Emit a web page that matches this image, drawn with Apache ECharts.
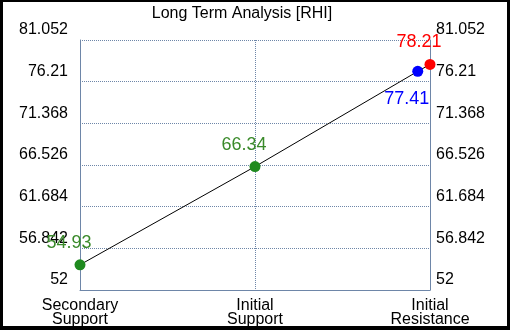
<!DOCTYPE html>
<html>
<head>
<meta charset="utf-8">
<script src="https://cdn.jsdelivr.net/npm/echarts@6/dist/echarts.min.js"></script>
<style>
  html, body { margin: 0; padding: 0; background: #000; }
  #paper { position: absolute; left: 3px; top: 2px; width: 504px; height: 324px; background: #fff; }
  #main { position: absolute; left: 0; top: 0; width: 510px; height: 330px; }
</style>
</head>
<body>
<div id="paper"></div>
<div id="main"></div>
<script>
var categories = ['Secondary\nSupport', 'Initial\nSupport', 'Initial\nResistance']
var yTicks = [52, 56.842, 61.684, 66.526, 71.368, 76.21, 81.052]
var pointX = [0, 1, 1.93, 2]
var pointY = [54.93, 66.34, 77.41, 78.21]
var pointColors = ['#1f8a1f', '#1f8a1f', '#0000ff', '#ff0000']
var labelColors = ['#3a8a2a', '#3a8a2a', '#0000ff', '#ff0000']
var labelOffsets = [[-11, -22], [-11, -22], [-11, 28], [-11, -22]]

var axisColor = '#6e86a8'
var myChart = echarts.init(document.getElementById('main'))
var option

var linePts = pointX.map(function (x, i) { return [x, pointY[i]] })
var dots = pointX.map(function (x, i) {
  return {
    value: [x, pointY[i]],
    itemStyle: { color: pointColors[i], opacity: 1 },
    label: {
      show: true,
      position: 'inside',
      offset: labelOffsets[i],
      formatter: String(pointY[i]),
      color: labelColors[i],
      fontSize: 18,
      fontFamily: 'Liberation Sans, Arial, sans-serif'
    }
  }
})

var yStep = yTicks[1] - yTicks[0]

function yAxisDef (pos, margin) {
  return {
    type: 'value',
    position: pos,
    min: yTicks[0],
    max: yTicks[yTicks.length - 1],
    interval: yStep,
    axisLine: { show: true, lineStyle: { color: axisColor, width: 1 } },
    axisTick: { show: false },
    axisLabel: {
      margin: margin,
      color: '#000',
      fontSize: 16,
      fontFamily: 'Liberation Sans, Arial, sans-serif',
      verticalAlign: 'bottom',
      lineHeight: 20,
      formatter: function (v) { return String(Math.round(v * 1000) / 1000) }
    },
    splitLine: {
      show: pos === 'left',
      lineStyle: { color: axisColor, type: 'dotted', width: 1 }
    }
  }
}

option = {
  animation: false,
  title: {
    text: 'Long Term Analysis [RHI]',
    left: 237,
    top: 1,
    textAlign: 'center',
    textStyle: {
      color: '#000',
      fontSize: 16,
      fontWeight: 'normal',
      fontFamily: 'Liberation Sans, Arial, sans-serif'
    }
  },
  grid: {
    left: 80,
    right: 80,
    top: 40,
    bottom: 40
  },
  xAxis: {
    type: 'value',
    min: 0,
    max: 2,
    interval: 1,
    axisLine: { show: true, lineStyle: { color: axisColor, width: 1 } },
    axisTick: { show: false },
    axisLabel: {
      margin: 9,
      color: '#000',
      fontSize: 16,
      lineHeight: 14,
      fontFamily: 'Liberation Sans, Arial, sans-serif',
      formatter: function (v) { return categories[v] || '' }
    },
    splitLine: { show: true, lineStyle: { color: axisColor, type: 'dotted', width: 1 } }
  },
  yAxis: [yAxisDef('left', 12), yAxisDef('right', 6)],
  series: [
    {
      type: 'line',
      data: linePts,
      symbol: 'none',
      lineStyle: { color: '#000', width: 1 },
      z: 2
    },
    {
      type: 'scatter',
      data: dots,
      symbolSize: 11,
      itemStyle: { opacity: 1 },
      z: 3
    }
  ]
}
option && myChart.setOption(option)
</script>
</body>
</html>
